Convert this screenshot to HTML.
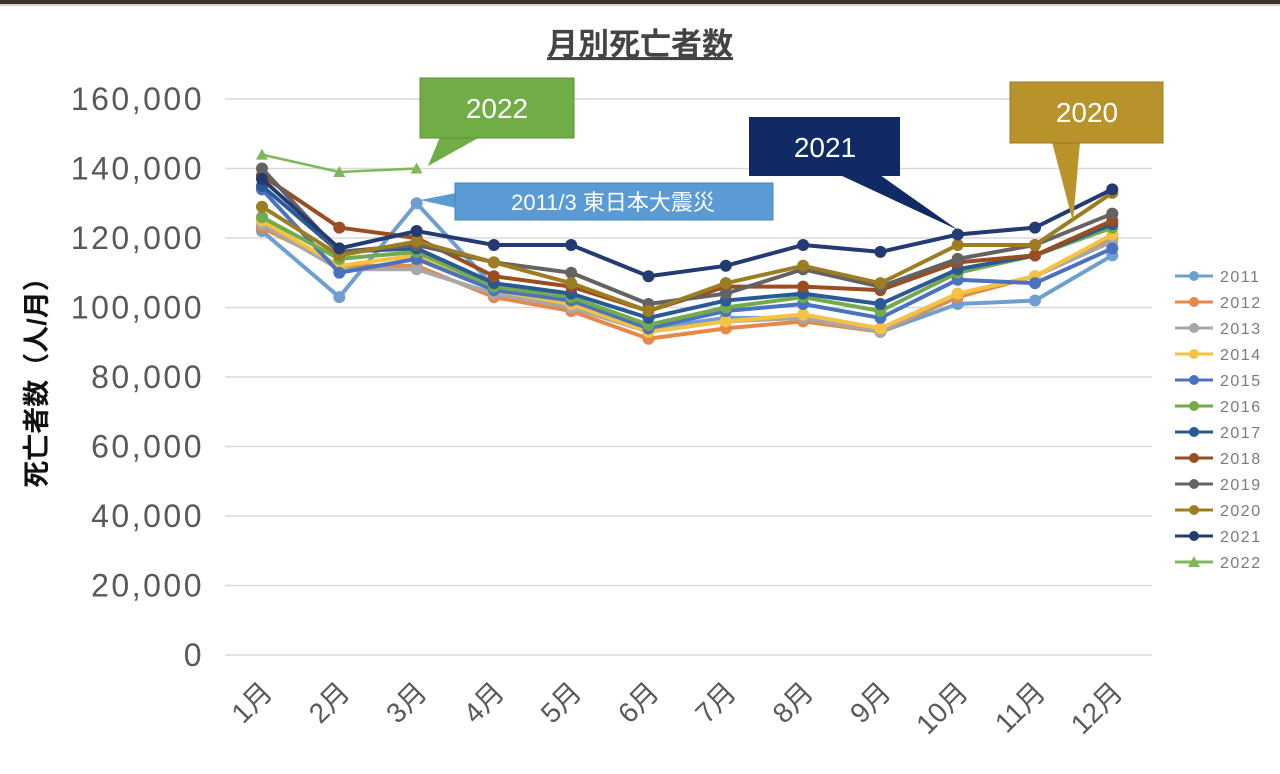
<!DOCTYPE html>
<html><head><meta charset="utf-8"><style>
html,body{margin:0;padding:0;background:#fff;}
svg{display:block;}
</style></head><body>
<svg id="chart" width="1280" height="774" xmlns="http://www.w3.org/2000/svg" font-family="'Liberation Sans','Noto Sans CJK JP',sans-serif">
<rect x="0" y="0" width="1280" height="4" fill="#3a3528"/>
<rect x="0" y="4" width="1280" height="2" fill="#d8d4c8"/>
<text x="640" y="55" text-anchor="middle" font-size="31" font-weight="bold" fill="#444" text-decoration="underline">月別死亡者数</text>
<text transform="translate(46,376) rotate(-90)" text-anchor="middle" font-size="27" font-weight="bold" fill="#111">死亡者数（人/月）</text>
<g id="grid"></g><g id="ylabels"></g><g id="xlabels"></g><g id="series"></g><g id="legend"></g><g id="callouts"></g>
</svg>
<script>
const months = ['1月','2月','3月','4月','5月','6月','7月','8月','9月','10月','11月','12月'];
const yTicks = [0,20000,40000,60000,80000,100000,120000,140000,160000];
const yTickLabels = ['0','20,000','40,000','60,000','80,000','100,000','120,000','140,000','160,000'];
const years = ['2011','2012','2013','2014','2015','2016','2017','2018','2019','2020','2021','2022'];
const colors = ['#6f9fd0','#e5894a','#a8a8a8','#f5c242','#4a72c0','#72aa4c','#2a5a94','#9b4d22','#636363','#9c7d22','#243a72','#7fb85a'];
const s2011 = [122000,103000,130000,106000,103000,94000,97000,97000,93000,101000,102000,115000];
const s2012 = [123000,112000,112000,103000,99000,91000,94000,96000,93000,103000,109000,120000];
const s2013 = [124000,111000,111000,104000,100000,93000,96000,97000,93000,104000,109000,119000];
const s2014 = [125000,112000,115000,105000,101000,93000,96000,98000,94000,104000,109000,121000];
const s2015 = [134000,110000,114000,105000,102000,94000,99000,101000,97000,108000,107000,117000];
const s2016 = [126000,114000,116000,106000,103000,95000,100000,103000,99000,110000,115000,123000];
const s2017 = [135000,116000,117000,107000,104000,97000,102000,104000,101000,111000,115000,124000];
const s2018 = [138000,123000,120000,109000,106000,99000,106000,106000,105000,113000,115000,125000];
const s2019 = [140000,116000,118000,113000,110000,101000,104000,111000,106000,114000,118000,127000];
const s2020 = [129000,115000,119000,113000,107000,99000,107000,112000,107000,118000,118000,133000];
const s2021 = [137000,117000,122000,118000,118000,109000,112000,118000,116000,121000,123000,134000];
const s2022 = [144000,139000,140000];
const seriesData = [s2011,s2012,s2013,s2014,s2015,s2016,s2017,s2018,s2019,s2020,s2021,s2022];

const NS='http://www.w3.org/2000/svg';
const X0=262, DX=77.3, Y0=655, YMAX=160000, YTOP=99;
function xs(i){return X0+i*DX;}
function ys(v){return Y0-(v/YMAX)*(Y0-YTOP);}
function mk(tag,attrs,parent){const e=document.createElementNS(NS,tag);for(const k in attrs)e.setAttribute(k,attrs[k]);parent.appendChild(e);return e;}

const grid=document.getElementById('grid'), yl=document.getElementById('ylabels');
yTicks.forEach((t,i)=>{
  const l=mk('line',{x1:225,x2:1152,y1:ys(t),y2:ys(t),stroke:'#d9d9d9','stroke-width':1.5},grid);
  
  
  const tx=mk('text',{x:204,y:ys(t)+11,'text-anchor':'end','font-size':32,fill:'#595959','letter-spacing':'2.5'},yl);
  tx.textContent=yTickLabels[i];
  
  
});
const xl=document.getElementById('xlabels');
months.forEach((m,i)=>{
  const tx=mk('text',{transform:`translate(${xs(i)+12},${694}) rotate(-45)`,'text-anchor':'end','font-size':28,fill:'#595959'},xl);
  tx.textContent=m;
  
  
});
const sg=document.getElementById('series');
seriesData.forEach((d,si)=>{
  const g=mk('g',{},sg);
  
  
  const pts=d.map((v,i)=>xs(i)+','+ys(v)).join(' ');
  mk('polyline',{points:pts,fill:'none',stroke:colors[si],'stroke-width':si==11?2.5:4,'stroke-linejoin':'round'},g);
  d.forEach((v,i)=>{
    let p;
    if(si==11){const x=xs(i),y=ys(v);p=mk('polygon',{points:`${x},${y-6} ${x-6},${y+5} ${x+6},${y+5}`,fill:colors[si]},g);}
    else p=mk('circle',{cx:xs(i),cy:ys(v),r:6,fill:colors[si]},g);
    
    
  });
});
const lg=document.getElementById('legend');
years.forEach((yr,i)=>{
  const y=276+i*26;
  const g=mk('g',{},lg);
  
  
  mk('line',{x1:1175,x2:1213,y1:y,y2:y,stroke:colors[i],'stroke-width':3},g);
  if(i==11)mk('polygon',{points:`1194,${y-6} 1188,${y+5} 1200,${y+5}`,fill:colors[i]},g);
  else mk('circle',{cx:1194,cy:y,r:5,fill:colors[i]},g);
  const t=mk('text',{x:1220,y:y+6,'font-size':16,fill:'#7a7a7a','letter-spacing':'1.5'},g);
  t.textContent=yr;
});
const cg=document.getElementById('callouts');
function callout(name,x,y,w,h,px,py,bx1,bx2,fill,text,fs,tx,ty,stroke){
  const g=mk('g',{},cg);
  
  
  mk('polygon',{points:`${bx1[0]},${bx1[1]} ${px},${py} ${bx2[0]},${bx2[1]}`,fill:fill},g);
  mk('rect',{x:x,y:y,width:w,height:h,fill:fill,stroke:stroke||'none','stroke-width':1},g);
  const t=mk('text',{x:tx,y:ty,'text-anchor':'middle','font-size':fs,fill:'#fff'},g);
  t.textContent=text;
}
callout('callout-2022',420,78,154,60,428,166,[440,137],[480,137],'#70ad47','2022',28,497,118,'#5a8f38');
callout('callout-2011-quake',455,183,318,37,420,200,[456,193],[456,208],'#5b9bd5','2011/3 東日本大震災',22,613,210,'#4a86bf');
callout('callout-2021',749,117,151,59,958,230,[840,175],[880,175],'#0f2a64','2021',28,825,157);
callout('callout-2020',1010,82,153,61,1073,222,[1052,142],[1080,142],'#b8922b','2020',28,1087,122,'#9c7a20');
</script>
</body></html>
